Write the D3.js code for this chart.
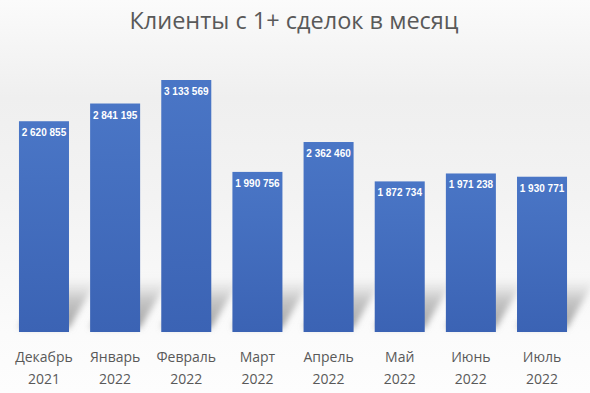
<!DOCTYPE html>
<html><head><meta charset="utf-8">
<script src="https://cdn.jsdelivr.net/npm/d3@7"></script>
<style>html,body{margin:0;padding:0;background:#fff;}svg{display:block;}</style>
</head><body>
<script>
const title = "Клиенты с 1+ сделок в месяц";
const months = ["Декабрь", "Январь", "Февраль", "Март", "Апрель", "Май", "Июнь", "Июль"];
const years = ["2021", "2022", "2022", "2022", "2022", "2022", "2022", "2022"];
const values = [2620855, 2841195, 3133569, 1990756, 2362460, 1872734, 1971238, 1930771];

const W = 590, H = 393;
const svg = d3.select("body").append("svg").attr("width", W).attr("height", H);
const defs = svg.append("defs");

const bg = defs.append("linearGradient").attr("id", "bg").attr("x1", 0).attr("y1", 0).attr("x2", 0).attr("y2", 1);
[[0, "#fbfbfb"], [0.12, "#f5f5f5"], [0.25, "#efefef"], [0.5, "#f3f3f3"], [0.85, "#fbfbfb"], [1, "#fdfdfd"]]
  .forEach(([o, c]) => bg.append("stop").attr("offset", o).attr("stop-color", c));

const bar = defs.append("linearGradient").attr("id", "bar").attr("x1", 0).attr("y1", 0).attr("x2", 0).attr("y2", 1);
bar.append("stop").attr("offset", 0).attr("stop-color", "#4a76c6");
bar.append("stop").attr("offset", 1).attr("stop-color", "#3b63b4");

const sh = defs.append("linearGradient").attr("id", "sh").attr("x1", 0).attr("y1", 1).attr("x2", 0).attr("y2", 0);
sh.append("stop").attr("offset", 0).attr("stop-color", "#8f8f8f").attr("stop-opacity", 0.85);
sh.append("stop").attr("offset", 0.55).attr("stop-color", "#a5a5a5").attr("stop-opacity", 0.6);
sh.append("stop").attr("offset", 1).attr("stop-color", "#c8c8c8").attr("stop-opacity", 0);
defs.append("filter").attr("id", "blur").attr("x", "-50%").attr("y", "-50%").attr("width", "200%").attr("height", "200%")
  .append("feGaussianBlur").attr("stdDeviation", 3);

svg.append("rect").attr("width", W).attr("height", H).attr("fill", "url(#bg)");

const x = d3.scaleBand().domain(months).range([8.4, 577.6]).paddingInner(0.297).paddingOuter(0.1485);
const base = 332;
const y = d3.scaleLinear().domain([0, 3133569]).range([base, 80]);

// shadows
const dx = 30, hs = 55;
svg.append("g").selectAll("path").data(months).join("path")
  .attr("d", (m) => {
    const x0 = x(m), x1 = x(m) + x.bandwidth();
    return `M${x0},${base - 4}L${x1},${base - 4}L${x1 + dx},${base - hs}L${x0 + dx},${base - hs}Z`;
  })
  .attr("fill", "url(#sh)").attr("filter", "url(#blur)");

// bars
svg.append("g").selectAll("rect").data(values).join("rect")
  .attr("x", (d, i) => x(months[i]))
  .attr("y", d => y(d))
  .attr("width", x.bandwidth())
  .attr("height", d => base - y(d))
  .attr("fill", "url(#bar)");

// value labels
const fmt = v => d3.format(",")(v).replace(/,/g, " ");
svg.append("g").selectAll("text").data(values).join("text")
  .attr("x", (d, i) => x(months[i]) + x.bandwidth() / 2)
  .attr("y", d => y(d) + 15)
  .attr("text-anchor", "middle")
  .attr("font-family", "'Liberation Sans', Arial, sans-serif")
  .attr("font-weight", "bold")
  .attr("font-size", 10)
  .attr("fill", "#ffffff")
  .text(d => fmt(d));

// category labels
const lab = svg.append("g").selectAll("text").data(months).join("text")
  .attr("x", m => x(m) + x.bandwidth() / 2)
  .attr("text-anchor", "middle")
  .attr("font-family", "'Open Sans', sans-serif")
  .attr("font-size", 14)
  .attr("fill", "#595959");
lab.append("tspan").attr("x", m => x(m) + x.bandwidth() / 2).attr("y", 362).text(m => m);
lab.append("tspan").attr("x", m => x(m) + x.bandwidth() / 2).attr("y", 384).text((m, i) => years[i]);

// title
svg.append("text").attr("x", 294).attr("y", 29).attr("text-anchor", "middle")
  .attr("font-family", "'Open Sans', sans-serif").attr("font-size", 23.5)
  .attr("fill", "#595959").text(title);
</script>
</body></html>
